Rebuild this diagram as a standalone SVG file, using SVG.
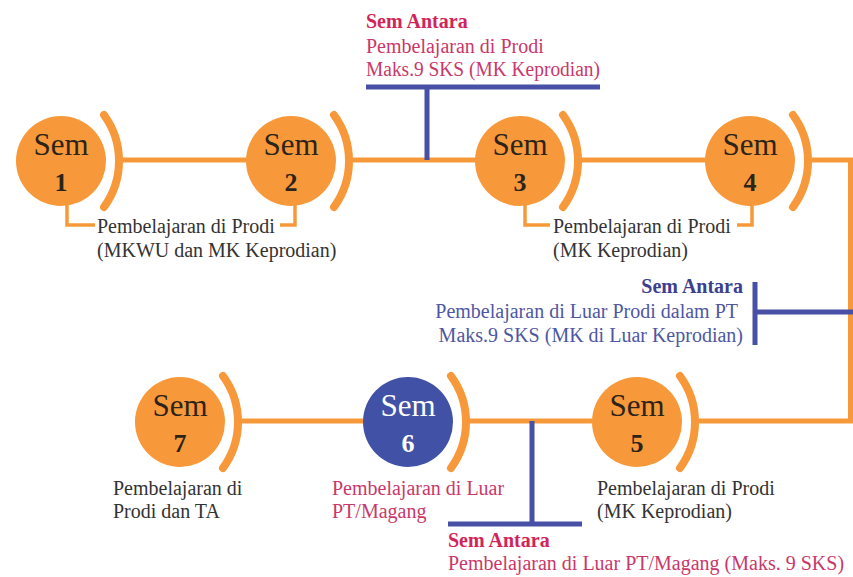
<svg xmlns="http://www.w3.org/2000/svg" width="853" height="577" viewBox="0 0 853 577">
<style>
.circ{fill:#F7993A}
.circB{fill:#4152A6}
.arc{fill:none;stroke:#F7993A;stroke-width:8;stroke-linecap:round}
.ln{fill:none;stroke:#F7993A;stroke-width:5}
.br{fill:none;stroke:#F7993A;stroke-width:3.5}
.bl{fill:none;stroke:#4750A4;stroke-width:5}
.sem{font-family:"Liberation Serif",serif;font-size:31px;fill:#2d2419;text-anchor:middle}
.num{font-family:"Liberation Serif",serif;font-size:26px;font-weight:bold;fill:#2d2419;text-anchor:middle}
.w{fill:#ffffff}
.t{font-family:"Liberation Serif",serif;font-size:20px;fill:#333333}
.tr{font-family:"Liberation Serif",serif;font-size:20px;fill:#C9386A}
.hr{font-family:"Liberation Serif",serif;font-size:20px;font-weight:bold;fill:#D1255A}
.tb{font-family:"Liberation Serif",serif;font-size:20px;fill:#4E57A2}
.hb{font-family:"Liberation Serif",serif;font-size:20px;font-weight:bold;fill:#3C3F8F}
</style>
<rect width="853" height="577" fill="#ffffff"/>
<g id="connectors">
<path class="ln" d="M122 160 H246"/>
<path class="ln" d="M352 160 H475"/>
<path class="ln" d="M581 160 H705"/>
<path class="ln" d="M811 160 H850.5 V421 H698"/>
<path class="ln" d="M469 421 H592"/>
<path class="ln" d="M241 421 H363"/>
<path class="br" d="M67 205 V225 H95"/>
<path class="br" d="M295 205 V225 H280"/>
<path class="br" d="M525 205 V225 H550"/>
<path class="br" d="M752 205 V225 H737"/>
<path class="bl" d="M366 87 H600 M427 87 V160"/>
<path class="bl" d="M755 282 V345 M755 312 H853"/>
<path class="bl" d="M532 421 V524 M448 524 H582"/>
</g>
<g id="sem1">
<circle class="circ" cx="61" cy="161" r="45"/>
<path class="arc" d="M104 115 A78 78 0 0 1 104 207"/>
<text class="sem" x="61" y="155">Sem</text>
<text class="num" x="61" y="191">1</text>
</g>
<g id="sem2">
<circle class="circ" cx="291" cy="161" r="45"/>
<path class="arc" d="M334 115 A78 78 0 0 1 334 207"/>
<text class="sem" x="291" y="155">Sem</text>
<text class="num" x="291" y="191">2</text>
</g>
<g id="sem3">
<circle class="circ" cx="520" cy="161" r="45"/>
<path class="arc" d="M563 115 A78 78 0 0 1 563 207"/>
<text class="sem" x="520" y="155">Sem</text>
<text class="num" x="520" y="191">3</text>
</g>
<g id="sem4">
<circle class="circ" cx="750" cy="161" r="45"/>
<path class="arc" d="M793 115 A78 78 0 0 1 793 207"/>
<text class="sem" x="750" y="155">Sem</text>
<text class="num" x="750" y="191">4</text>
</g>
<g id="sem5">
<circle class="circ" cx="637" cy="422" r="45"/>
<path class="arc" d="M680 376 A78 78 0 0 1 680 468"/>
<text class="sem" x="637" y="416">Sem</text>
<text class="num" x="637" y="452">5</text>
</g>
<g id="sem6">
<circle class="circB" cx="408" cy="422" r="45"/>
<path class="arc" d="M451 376 A78 78 0 0 1 451 468"/>
<text class="sem w" x="408" y="416">Sem</text>
<text class="num w" x="408" y="452">6</text>
</g>
<g id="sem7">
<circle class="circ" cx="180" cy="422" r="45"/>
<path class="arc" d="M223 376 A78 78 0 0 1 223 468"/>
<text class="sem" x="180" y="416">Sem</text>
<text class="num" x="180" y="452">7</text>
</g>
<g id="label-sem12">
<text class="t" x="97" y="233">Pembelajaran di Prodi</text>
<text class="t" x="97" y="257">(MKWU dan MK Keprodian)</text>
</g>
<g id="label-sem34">
<text class="t" x="553" y="233">Pembelajaran di Prodi</text>
<text class="t" x="553" y="257">(MK Keprodian)</text>
</g>
<g id="antara-top">
<text class="hr" x="366" y="28">Sem Antara</text>
<text class="tr" x="366" y="53">Pembelajaran di Prodi</text>
<text class="tr" x="366" y="76" textLength="234" lengthAdjust="spacingAndGlyphs">Maks.9 SKS (MK Keprodian)</text>
</g>
<g id="antara-mid">
<text class="hb" x="743" y="293" text-anchor="end">Sem Antara</text>
<text class="tb" x="738" y="318" text-anchor="end">Pembelajaran di Luar Prodi dalam PT</text>
<text class="tb" x="743" y="342" text-anchor="end">Maks.9 SKS (MK di Luar Keprodian)</text>
</g>
<g id="label-sem7">
<text class="t" x="113" y="495">Pembelajaran di</text>
<text class="t" x="113" y="518">Prodi dan TA</text>
</g>
<g id="label-sem6">
<text class="tr" x="332" y="495">Pembelajaran di Luar</text>
<text class="tr" x="332" y="518">PT/Magang</text>
</g>
<g id="label-sem5">
<text class="t" x="597" y="495">Pembelajaran di Prodi</text>
<text class="t" x="597" y="518">(MK Keprodian)</text>
</g>
<g id="antara-bottom">
<text class="hr" x="448" y="547">Sem Antara</text>
<text class="tr" x="448" y="570">Pembelajaran di Luar PT/Magang (Maks. 9 SKS)</text>
</g>
</svg>
